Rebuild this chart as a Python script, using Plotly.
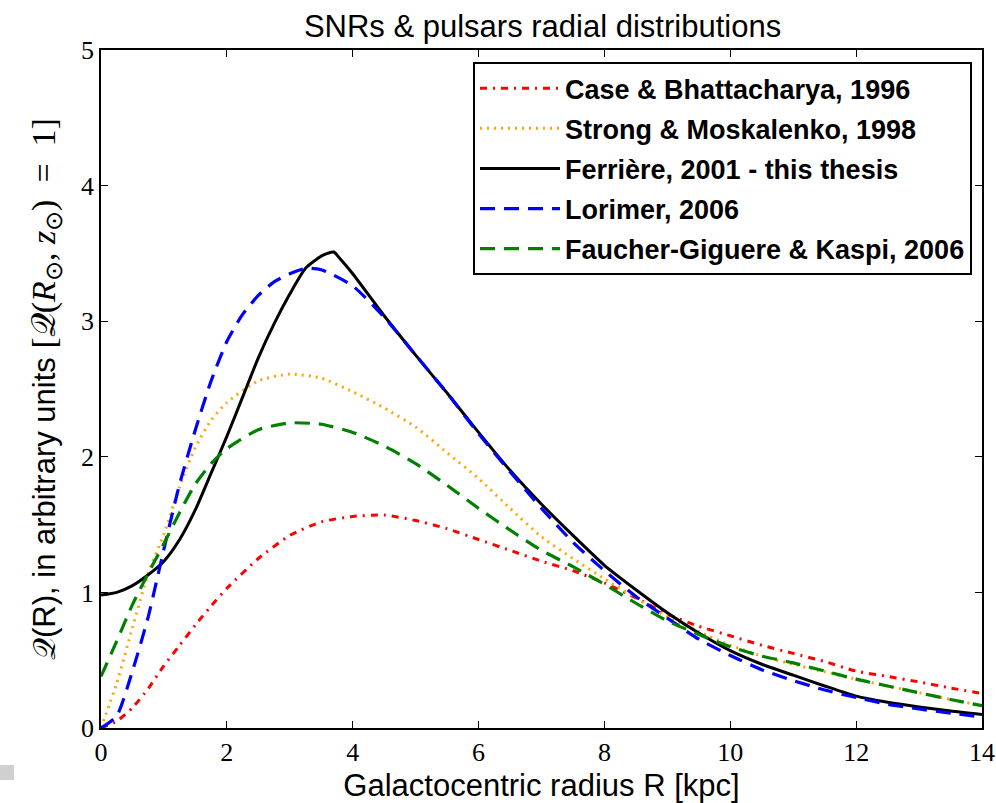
import plotly.graph_objects as go

# Galactocentric radius grid (kpc)
R_main = [0, 0.25, 0.5, 0.75, 1.0, 1.25, 1.5, 1.75, 2.0, 2.5, 3.0, 3.5, 4.0, 4.5, 5.0, 5.5,
          6.0, 6.5, 7.0, 7.5, 8.0, 8.5, 9.0, 9.5, 10.0, 10.5, 11.0, 11.5, 12.0, 12.5,
          13.0, 13.5, 14.0]

case_1996 = [0.0, 0.05, 0.15, 0.29, 0.46, 0.61, 0.76, 0.90, 1.03, 1.25, 1.42, 1.52, 1.56, 1.57,
             1.53, 1.47, 1.39, 1.31, 1.23, 1.16, 1.07, 0.96, 0.84, 0.75, 0.68, 0.61, 0.55,
             0.49, 0.42, 0.38, 0.34, 0.295, 0.255]

strong_1998 = [0.0, 0.33, 0.74, 1.14, 1.43, 1.78, 2.07, 2.27, 2.40, 2.56, 2.61, 2.58, 2.48, 2.36,
               2.22, 2.03, 1.84, 1.62, 1.41, 1.25, 1.10, 0.96, 0.82, 0.71, 0.61, 0.53, 0.47,
               0.415, 0.36, 0.31, 0.26, 0.21, 0.165]

R_ferriere = [0, 0.25, 0.5, 0.75, 1.0, 1.25, 1.5, 1.75, 2.0, 2.25, 2.5, 2.75, 3.0, 3.25, 3.5,
              3.6, 3.7, 3.8, 4.0, 4.5, 5.0, 5.5, 6.0, 6.5, 7.0, 7.5, 8.0, 8.5, 9.0, 9.5,
              10.0, 10.5, 11.0, 11.5, 12.0, 12.5, 13.0, 13.5, 14.0]
ferriere_2001 = [0.98, 1.00, 1.05, 1.13, 1.23, 1.39, 1.61, 1.88, 2.15, 2.44, 2.73, 2.98, 3.20,
                 3.39, 3.48, 3.50, 3.51, 3.46, 3.35, 3.04, 2.75, 2.47, 2.18, 1.90, 1.65, 1.42,
                 1.20, 1.02, 0.85, 0.70, 0.57, 0.47, 0.39, 0.31, 0.235, 0.19, 0.155, 0.125, 0.10]

R_lorimer = [0, 0.25, 0.5, 0.75, 1.0, 1.25, 1.5, 1.75, 2.0, 2.25, 2.5, 2.75, 3.0, 3.25, 3.5,
             4.0, 4.5, 5.0, 5.5, 6.0, 6.5, 7.0, 7.5, 8.0, 8.5, 9.0, 9.5, 10.0, 10.5, 11.0,
             11.5, 12.0, 12.5, 13.0, 13.5, 14.0]
lorimer_2006 = [0.0, 0.09, 0.42, 0.82, 1.32, 1.80, 2.20, 2.56, 2.85, 3.05, 3.19, 3.29, 3.35, 3.39,
                3.38, 3.26, 3.03, 2.75, 2.47, 2.17, 1.89, 1.62, 1.37, 1.16, 0.97, 0.81, 0.655,
                0.535, 0.43, 0.35, 0.28, 0.225, 0.175, 0.14, 0.11, 0.08]

fgk_2006 = [0.38, 0.64, 0.91, 1.14, 1.36, 1.59, 1.80, 1.95, 2.06, 2.20, 2.25, 2.24, 2.18, 2.08,
            1.95, 1.79, 1.62, 1.46, 1.31, 1.19, 1.06, 0.92, 0.79, 0.69, 0.60, 0.53, 0.48,
            0.42, 0.36, 0.31, 0.26, 0.21, 0.165]

names = ["Case & Bhattacharya, 1996", "Strong & Moskalenko, 1998",
         "Ferrière, 2001 - this thesis", "Lorimer, 2006", "Faucher-Giguere & Kaspi, 2006"]

x_ticks = [0, 2, 4, 6, 8, 10, 12, 14]
y_ticks = [0, 1, 2, 3, 4, 5]

fig = go.Figure()
series = [
    (R_main, case_1996, names[0], dict(color="#ff0000", width=3, dash="7px,6px,2px,6px")),
    (R_main, strong_1998, names[1], dict(color="#ffa500", width=3, dash="2px,5px")),
    (R_ferriere, ferriere_2001, names[2], dict(color="#000000", width=3, dash="solid")),
    (R_lorimer, lorimer_2006, names[3], dict(color="#0000ff", width=3.2, dash="15px,9px")),
    (R_main, fgk_2006, names[4], dict(color="#008000", width=3.2, dash="15px,9px")),
]
for i, (xs, ys, nm, ln) in enumerate(series):
    fig.add_trace(go.Scatter(x=xs, y=ys, mode="lines", name="<b>" + nm + "</b>",
                             legendgroup="g%d" % i,
                             line=dict(shape="spline", smoothing=0.6, **ln)))

sans = "Liberation Sans"
serif = "Liberation Serif"
ytitle = ("𝒬(R), in arbitrary units "
          "<span style=\"font-family:'Liberation Serif';font-size:34px\">"
          "[𝒬(<i>R</i><sub>⊙</sub>,&#160;<i>z</i><sub>⊙</sub>)&#160;&#160;=&#160;&#160;1]</span>")
fig.update_layout(
    width=996, height=803,
    margin=dict(l=101, r=14, t=50, b=75),
    paper_bgcolor="white", plot_bgcolor="white",
    title=dict(text="SNRs & pulsars radial distributions", x=0.5447, xanchor="center",
               xref="container", y=1 - 26 / 803, yanchor="middle",
               font=dict(family=sans, size=31, color="black")),
    showlegend=True,
    legend=dict(x=(972 - 101) / 881, y=0.982, xanchor="right", yanchor="top",
                bordercolor="black", borderwidth=2, bgcolor="white",
                font=dict(family=sans, size=27, color="black"),
                tracegroupgap=2, itemwidth=80),
    xaxis=dict(range=[0, 14], tickvals=x_ticks, ticktext=[str(v) for v in x_ticks],
               automargin=False,
               showgrid=False, zeroline=False, showline=True, linecolor="black",
               linewidth=1.5, mirror="ticks", ticks="inside", ticklen=7, tickcolor="black",
               tickfont=dict(family=serif, size=26, color="black"),
               title=dict(text="Galactocentric radius R [kpc]", standoff=10,
                          font=dict(family=sans, size=31, color="black"))),
    yaxis=dict(range=[0, 5], tickvals=y_ticks, ticktext=[str(v) for v in y_ticks],
               automargin=False,
               showgrid=False, zeroline=False, showline=True, linecolor="black",
               linewidth=1.5, mirror="ticks", ticks="inside", ticklen=7, tickcolor="black",
               tickfont=dict(family=serif, size=26, color="black"),
               title=dict(text=ytitle, standoff=16,
                          font=dict(family=sans, size=31, color="black"))),
)
fig.add_shape(type="rect", xref="paper", yref="paper",
              x0=-101 / 881, x1=-87 / 881, y0=-52 / 678, y1=-37 / 678,
              fillcolor="#d0d0d0", line=dict(width=0))

fig.write_html("out.html")
